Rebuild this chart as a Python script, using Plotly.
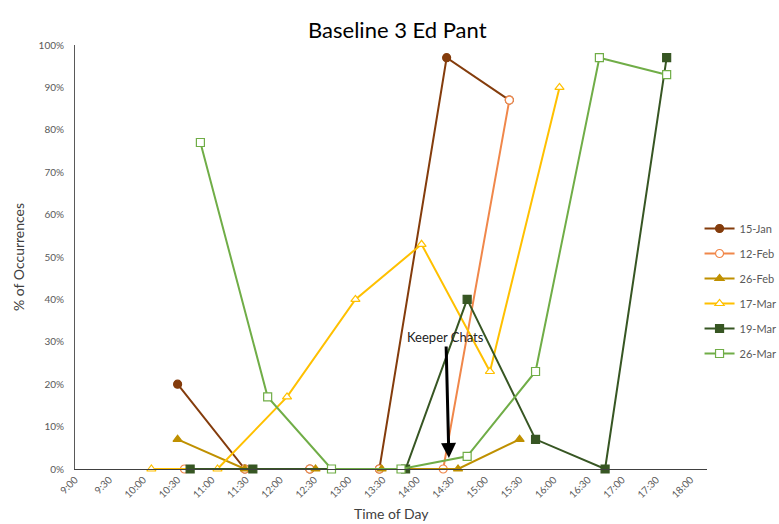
import plotly.graph_objects as go

# Observation times (HH:MM) and share of occurrences (%) for each session
dates = ["15-Jan", "12-Feb", "26-Feb", "17-Mar", "19-Mar", "26-Mar"]

times_15jan = ["10:30", "11:29", "12:26", "13:27", "14:26", "15:21"]
vals_15jan = [20, 0, 0, 0, 97, 87]

times_12feb = ["10:36", "11:29", "12:26", "13:27", "14:23", "15:21"]
vals_12feb = [0, 0, 0, 0, 0, 87]

times_26feb = ["10:30", "11:29", "12:31", "13:29", "14:36", "15:30"]
vals_26feb = [7, 0, 0, 0, 0, 7]

times_17mar = ["10:07", "11:05", "12:06", "13:06", "14:04", "15:04", "16:05"]
vals_17mar = [0, 0, 17, 40, 53, 23, 90]

times_19mar = ["10:41", "11:36", "13:50", "14:44", "15:44", "16:45", "17:39"]
vals_19mar = [0, 0, 0, 40, 7, 0, 97]

times_26mar = ["10:50", "11:49", "12:45", "13:46", "14:44", "15:44", "16:40", "17:39"]
vals_26mar = [77, 17, 0, 0, 3, 23, 97, 93]

tick_labels = ["9:00", "9:30", "10:00", "10:30", "11:00", "11:30", "12:00", "12:30",
               "13:00", "13:30", "14:00", "14:30", "15:00", "15:30", "16:00", "16:30",
               "17:00", "17:30", "18:00"]

keeper_chats_time = "14:28"


def to_hours(t):
    h, m = t.split(":")
    return int(h) + int(m) / 60.0


series = [
    (dates[0], times_15jan, vals_15jan, "#843C0C", "circle", "#843C0C"),
    (dates[1], times_12feb, vals_12feb, "#F0874A", "circle", "white"),
    (dates[2], times_26feb, vals_26feb, "#BF9000", "triangle-up", "#BF9000"),
    (dates[3], times_17mar, vals_17mar, "#FFC000", "triangle-up", "white"),
    (dates[4], times_19mar, vals_19mar, "#375623", "square", "#375623"),
    (dates[5], times_26mar, vals_26mar, "#70AD47", "square", "white"),
]

fig = go.Figure()
for name, times, vals, color, symbol, fill in series:
    fig.add_trace(go.Scatter(
        x=[to_hours(t) for t in times],
        y=vals,
        name=name,
        legendgroup=name,
        mode="lines+markers",
        line=dict(color=color, width=2),
        marker=dict(symbol=symbol, size=8, color=fill,
                    line=dict(color=color, width=1.2)),
        cliponaxis=False,
    ))

tick_vals = [to_hours(t) for t in tick_labels]

fig.add_annotation(
    x=to_hours(keeper_chats_time), y=2.6, xref="x", yref="y",
    text="Keeper Chats", showarrow=True,
    ax=-3, ay=-121, axref="pixel", ayref="pixel",
    arrowhead=2, arrowsize=1, arrowwidth=3, arrowcolor="black",
    font=dict(family="Lato, sans-serif", size=13, color="#222222"),
)

fig.add_annotation(
    x=0.5, y=-0.105, xref="paper", yref="paper",
    text="Time of Day", showarrow=False, yanchor="middle",
    font=dict(family="Lato, sans-serif", size=14, color="#404040"),
)

fig.update_layout(
    width=779, height=524,
    margin=dict(l=75, r=72, t=45, b=55, autoexpand=False),
    paper_bgcolor="white", plot_bgcolor="white",
    title=dict(text="Baseline 3 Ed Pant", x=0.51, xanchor="center",
               y=1 - 30 / 524, yanchor="middle",
               font=dict(family="Lato, sans-serif", size=22, color="#000000")),
    legend=dict(
        xref="container", yref="container", x=0.898, y=1 - 214 / 524,
        xanchor="left", yanchor="top",
        font=dict(family="Lato, sans-serif", size=11, color="#595959"),
        itemwidth=30, tracegroupgap=6, bgcolor="rgba(0,0,0,0)",
    ),
    xaxis=dict(
        range=[9, 18.24], tickvals=tick_vals, ticktext=tick_labels,
        tickangle=-45, showgrid=False, zeroline=False,
        showline=True, linecolor="#404040", linewidth=1.2,
        ticks="", tickfont=dict(family="Lato, sans-serif", size=10, color="#595959"),
    ),
    yaxis=dict(
        range=[0, 100], dtick=10, ticksuffix="%", showgrid=False, zeroline=False,
        showline=True, linecolor="#595959", linewidth=1,
        ticks="", ticklabelstandoff=8,
        tickfont=dict(family="Lato, sans-serif", size=10, color="#595959"),
        title=dict(text="% of Occurrences", standoff=10,
                   font=dict(family="Lato, sans-serif", size=14, color="#404040")),
    ),
)

fig.write_html("out.html")
